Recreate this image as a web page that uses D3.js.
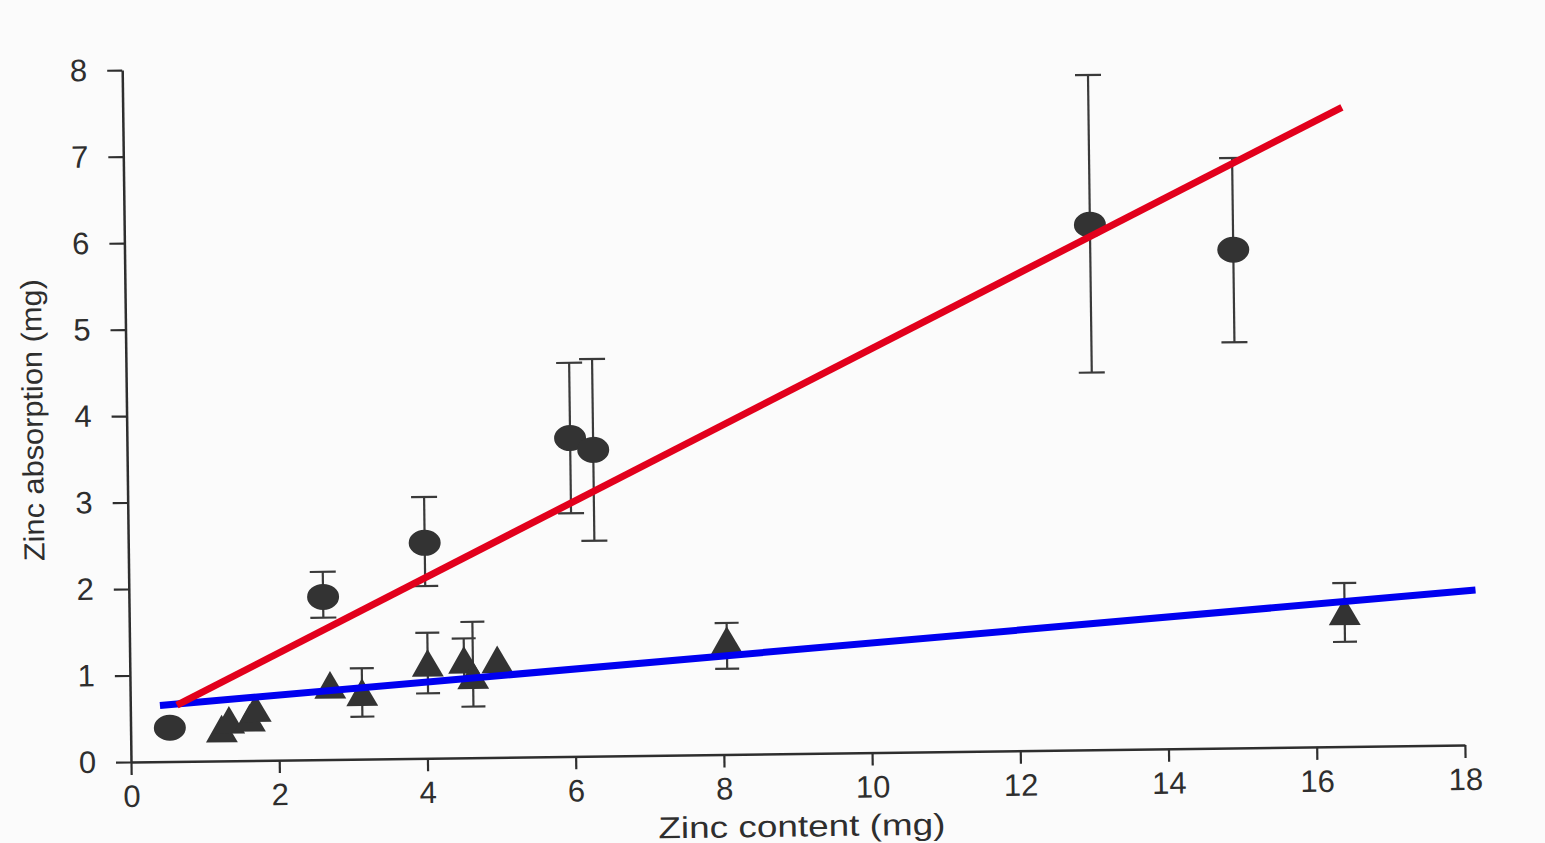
<!DOCTYPE html>
<html>
<head>
<meta charset="utf-8">
<script src="https://cdn.jsdelivr.net/npm/d3@7"></script>
<style>
  html, body { margin: 0; padding: 0; background: #fbfbfb; }
  svg { display: block; }
</style>
</head>
<body>
<svg id="chart" width="1545" height="843"></svg>
<script>
// values
var xTicks = [0, 2, 4, 6, 8, 10, 12, 14, 16, 18];
var yTicks = [0, 1, 2, 3, 4, 5, 6, 7, 8];

// circles (with error bars, null = none drawn)
var circleX  = [0.53, 2.62, 4.00, 5.98, 6.29, 13.03, 14.96];
var circleY  = [0.39, 1.88, 2.49, 3.68, 3.54, 6.07, 5.76];
var circleLo = [null, 1.64, 1.99, 2.81, 2.49, 4.36, 4.69];
var circleHi = [null, 2.17, 3.02, 4.55, 4.59, 7.80, 6.82];

// triangles
var triX  = [1.23, 1.33, 1.61, 1.69, 2.70, 3.13, 4.02, 4.51, 4.63, 4.96, 8.06, 16.40];
var triY  = [0.32, 0.42, 0.44, 0.55, 0.81, 0.72, 1.05, 1.08, 0.90, 1.08, 1.27, 1.51];
var triLo = [null, null, null, null, null, 0.49, 0.75, 0.92, 0.59, null, 0.99, 1.21];
var triHi = [null, null, null, null, null, 1.05, 1.45, 1.38, 1.57, null, 1.52, 1.89];

// hand drawn fit lines
var redFit  = [{x: 0.63, y: 0.65}, {x: 16.45, y: 7.39}];
var blueFit = [{x: 0.40, y: 0.65}, {x: 18.17, y: 1.79}];

var xLabel = "Zinc content (mg)";
var yLabel = "Zinc absorption (mg)";

var svg;
var plotW = 1334;
var plotH = 692;
var tilt = -0.73;   // the scan is a little rotated
var ink = "#2e2e2e";

document.addEventListener('DOMContentLoaded', function() {
    svg = d3.select("#chart");
    drawChart();
});

function toPoints(xs, ys, los, his){
    var arr = [];
    for(i=0; i<xs.length; i++){
        arr.push({x: xs[i], y: ys[i], lo: los[i], hi: his[i]});
    }
    return arr;
}

function drawChart(){
    var x = d3.scaleLinear().domain([0, 18]).range([0, plotW]);
    var y = d3.scaleLinear().domain([0, 8]).range([0, -plotH]);

    var g = svg.append("g")
        .attr("transform", "translate(131,762) rotate(" + tilt + ")");

    // axes
    var xAxis = g.append("g")
        .call(d3.axisBottom(x).tickValues(xTicks).tickSize(13).tickSizeOuter(0).tickPadding(10));
    var yAxis = g.append("g")
        .call(d3.axisLeft(y).tickValues(yTicks).tickSize(15).tickSizeOuter(0).tickPadding(20));

    [xAxis, yAxis].forEach(function(ax){
        ax.select(".domain").attr("stroke", ink).attr("stroke-width", 2.5);
        ax.selectAll(".tick line").attr("stroke", ink).attr("stroke-width", 2.2);
        ax.selectAll(".tick text")
            .attr("fill", ink)
            .style("font-family", "'Liberation Sans', Arial, sans-serif")
            .style("font-size", "31px");
    });

    // labels
    g.append("text")
        .attr("x", 670)
        .attr("y", 83)
        .attr("text-anchor", "middle")
        .attr("textLength", 287)
        .attr("lengthAdjust", "spacingAndGlyphs")
        .style("font-family", "'Liberation Sans', Arial, sans-serif")
        .style("font-size", "30px")
        .attr("fill", ink)
        .text(xLabel);

    g.append("text")
        .attr("transform", "translate(-84,-343) rotate(-90)")
        .attr("text-anchor", "middle")
        .attr("textLength", 282)
        .attr("lengthAdjust", "spacingAndGlyphs")
        .style("font-family", "'Liberation Sans', Arial, sans-serif")
        .style("font-size", "29px")
        .attr("fill", ink)
        .text(yLabel);

    var circles = toPoints(circleX, circleY, circleLo, circleHi);
    var tris = toPoints(triX, triY, triLo, triHi);

    drawErrorBars(g, circles, x, y, 13);
    drawErrorBars(g, tris, x, y, 12);

    g.selectAll("ellipse.dot")
        .data(circles)
        .enter()
        .append("ellipse")
        .attr("class", "dot")
        .attr("cx", d => x(d.x))
        .attr("cy", d => y(d.y))
        .attr("rx", 16)
        .attr("ry", 13)
        .attr("fill", "#333");

    g.selectAll("path.tri")
        .data(tris)
        .enter()
        .append("path")
        .attr("class", "tri")
        .attr("transform", d => "translate(" + x(d.x) + "," + y(d.y) + ")")
        .attr("d", d3.symbol(d3.symbolTriangle, 440))
        .attr("fill", "#333");

    var line = d3.line()
        .x(d => x(d.x))
        .y(d => y(d.y));

    g.append("path")
        .datum(blueFit)
        .attr("d", line)
        .style("fill", "none")
        .style("stroke", "#0000f0")
        .style("stroke-width", "7px");

    g.append("path")
        .datum(redFit)
        .attr("d", line)
        .style("fill", "none")
        .style("stroke", "#e2001c")
        .style("stroke-width", "7px");
}

function drawErrorBars(g, pts, x, y, cap){
    var withBars = pts.filter(d => d.lo != null);
    var eg = g.append("g")
        .attr("stroke", "#3a3a3a")
        .attr("stroke-width", 2.2);

    eg.selectAll("line.stem")
        .data(withBars)
        .enter()
        .append("line")
        .attr("x1", d => x(d.x))
        .attr("x2", d => x(d.x))
        .attr("y1", d => y(d.lo))
        .attr("y2", d => y(d.hi));

    eg.selectAll("line.hicap")
        .data(withBars)
        .enter()
        .append("line")
        .attr("x1", d => x(d.x) - cap)
        .attr("x2", d => x(d.x) + cap)
        .attr("y1", d => y(d.hi))
        .attr("y2", d => y(d.hi));

    eg.selectAll("line.locap")
        .data(withBars)
        .enter()
        .append("line")
        .attr("x1", d => x(d.x) - cap)
        .attr("x2", d => x(d.x) + cap)
        .attr("y1", d => y(d.lo))
        .attr("y2", d => y(d.lo));
}
</script>
</body>
</html>
